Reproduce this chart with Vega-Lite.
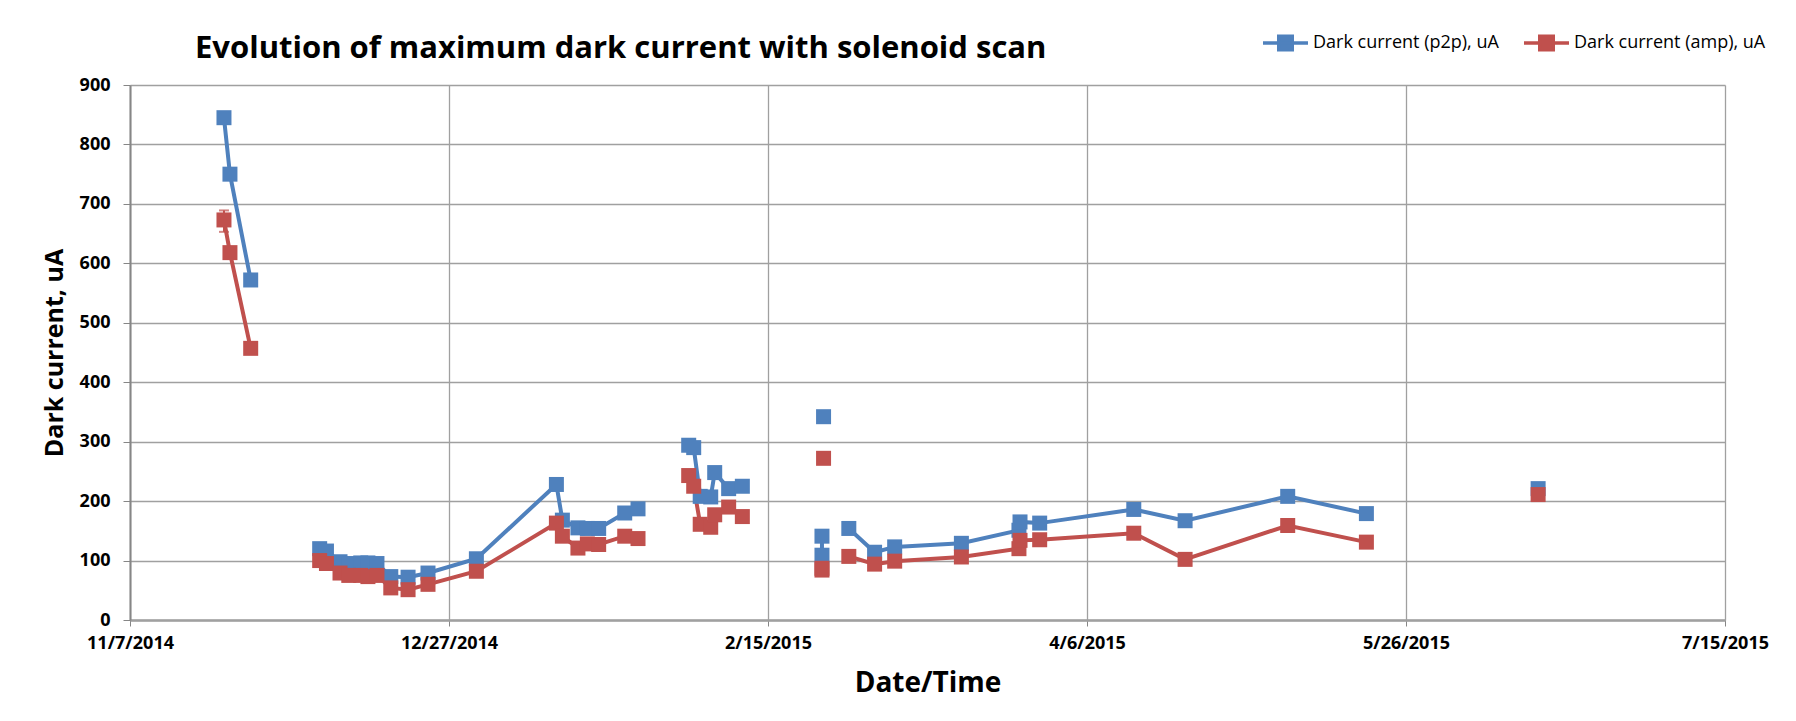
{
  "$schema": "https://vega.github.io/schema/vega-lite/v6.json",
  "width": 1595,
  "height": 535,
  "autosize": "none",
  "padding": {"left": 130, "top": 85, "right": 71, "bottom": 101},
  "background": "white",
  "title": {
    "text": "Evolution of maximum dark current with solenoid scan",
    "anchor": "start",
    "frame": "group",
    "dx": 65,
    "offset": -47,
    "font": "Open Sans",
    "fontSize": 31,
    "fontWeight": "bold",
    "color": "#000000"
  },
  "config": {
    "font": "Open Sans",
    "view": {"stroke": null},
    "axis": {
      "labelFont": "Open Sans",
      "labelFontWeight": "bold",
      "labelFontSize": 18,
      "labelColor": "#000000",
      "titleFont": "Open Sans",
      "titleFontWeight": "bold",
      "titleColor": "#000000",
      "gridColor": "#a0a0a0",
      "gridWidth": 1.3,
      "gridOpacity": 1,
      "tickColor": "#868686",
      "tickSize": 6,
      "domainColor": "#868686",
      "domainWidth": 2
    },
    "legend": {
      "labelFont": "Open Sans",
      "labelFontSize": 18,
      "labelColor": "#000000"
    }
  },
  "datasets": {
    "pts": [
      {"t": "2014-11-21T17:30", "series": "Dark current (p2p), uA", "v": 845, "seg": "A"},
      {"t": "2014-11-22T16:00", "series": "Dark current (p2p), uA", "v": 750, "seg": "A"},
      {"t": "2014-11-25T22:00", "series": "Dark current (p2p), uA", "v": 572, "seg": "A"},
      {"t": "2014-12-06T17:30", "series": "Dark current (p2p), uA", "v": 120, "seg": "B"},
      {"t": "2014-12-07T19:00", "series": "Dark current (p2p), uA", "v": 116, "seg": "B"},
      {"t": "2014-12-09T22:00", "series": "Dark current (p2p), uA", "v": 98, "seg": "B"},
      {"t": "2014-12-11T07:00", "series": "Dark current (p2p), uA", "v": 95, "seg": "B"},
      {"t": "2014-12-13T04:00", "series": "Dark current (p2p), uA", "v": 96, "seg": "B"},
      {"t": "2014-12-14T07:00", "series": "Dark current (p2p), uA", "v": 96, "seg": "B"},
      {"t": "2014-12-15T17:00", "series": "Dark current (p2p), uA", "v": 95, "seg": "B"},
      {"t": "2014-12-17T21:00", "series": "Dark current (p2p), uA", "v": 73, "seg": "B"},
      {"t": "2014-12-20T14:00", "series": "Dark current (p2p), uA", "v": 72, "seg": "B"},
      {"t": "2014-12-23T17:00", "series": "Dark current (p2p), uA", "v": 79, "seg": "B"},
      {"t": "2014-12-31T07:00", "series": "Dark current (p2p), uA", "v": 103, "seg": "B"},
      {"t": "2015-01-12T20:00", "series": "Dark current (p2p), uA", "v": 228, "seg": "B"},
      {"t": "2015-01-13T18:30", "series": "Dark current (p2p), uA", "v": 168, "seg": "B"},
      {"t": "2015-01-16T05:00", "series": "Dark current (p2p), uA", "v": 155, "seg": "B"},
      {"t": "2015-01-17T16:30", "series": "Dark current (p2p), uA", "v": 154, "seg": "B"},
      {"t": "2015-01-19T11:00", "series": "Dark current (p2p), uA", "v": 154, "seg": "B"},
      {"t": "2015-01-23T13:00", "series": "Dark current (p2p), uA", "v": 180, "seg": "B"},
      {"t": "2015-01-25T15:00", "series": "Dark current (p2p), uA", "v": 187, "seg": "B"},
      {"t": "2015-02-02T13:40", "series": "Dark current (p2p), uA", "v": 294, "seg": "C"},
      {"t": "2015-02-03T08:30", "series": "Dark current (p2p), uA", "v": 290, "seg": "C"},
      {"t": "2015-02-04T09:00", "series": "Dark current (p2p), uA", "v": 208, "seg": "C"},
      {"t": "2015-02-06T00:30", "series": "Dark current (p2p), uA", "v": 207, "seg": "C"},
      {"t": "2015-02-06T15:30", "series": "Dark current (p2p), uA", "v": 248, "seg": "C"},
      {"t": "2015-02-08T20:00", "series": "Dark current (p2p), uA", "v": 221, "seg": "C"},
      {"t": "2015-02-10T23:30", "series": "Dark current (p2p), uA", "v": 225, "seg": "C"},
      {"t": "2015-02-23T17:00", "series": "Dark current (p2p), uA", "v": 342, "seg": "D"},
      {"t": "2015-02-23T11:00", "series": "Dark current (p2p), uA", "v": 141, "seg": "E"},
      {"t": "2015-02-23T11:00", "series": "Dark current (p2p), uA", "v": 109, "seg": "E"},
      {"t": "2015-02-27T16:00", "series": "Dark current (p2p), uA", "v": 154, "seg": "F"},
      {"t": "2015-03-03T17:00", "series": "Dark current (p2p), uA", "v": 114, "seg": "F"},
      {"t": "2015-03-06T20:30", "series": "Dark current (p2p), uA", "v": 123, "seg": "F"},
      {"t": "2015-03-17T07:30", "series": "Dark current (p2p), uA", "v": 129, "seg": "F"},
      {"t": "2015-03-26T08:00", "series": "Dark current (p2p), uA", "v": 151, "seg": "F"},
      {"t": "2015-03-26T12:00", "series": "Dark current (p2p), uA", "v": 165, "seg": "F"},
      {"t": "2015-03-29T14:00", "series": "Dark current (p2p), uA", "v": 163, "seg": "F"},
      {"t": "2015-04-13T08:00", "series": "Dark current (p2p), uA", "v": 186, "seg": "F"},
      {"t": "2015-04-21T09:00", "series": "Dark current (p2p), uA", "v": 167, "seg": "F"},
      {"t": "2015-05-07T11:00", "series": "Dark current (p2p), uA", "v": 208, "seg": "F"},
      {"t": "2015-05-19T19:00", "series": "Dark current (p2p), uA", "v": 179, "seg": "F"},
      {"t": "2015-06-15T17:00", "series": "Dark current (p2p), uA", "v": 221, "seg": "G"},

      {"t": "2014-11-21T17:30", "series": "Dark current (amp), uA", "v": 673, "seg": "A"},
      {"t": "2014-11-22T16:00", "series": "Dark current (amp), uA", "v": 618, "seg": "A"},
      {"t": "2014-11-25T22:00", "series": "Dark current (amp), uA", "v": 457, "seg": "A"},
      {"t": "2014-12-06T17:30", "series": "Dark current (amp), uA", "v": 100, "seg": "B"},
      {"t": "2014-12-07T19:00", "series": "Dark current (amp), uA", "v": 95, "seg": "B"},
      {"t": "2014-12-09T22:00", "series": "Dark current (amp), uA", "v": 79, "seg": "B"},
      {"t": "2014-12-11T07:00", "series": "Dark current (amp), uA", "v": 75, "seg": "B"},
      {"t": "2014-12-13T04:00", "series": "Dark current (amp), uA", "v": 75, "seg": "B"},
      {"t": "2014-12-14T07:00", "series": "Dark current (amp), uA", "v": 73, "seg": "B"},
      {"t": "2014-12-15T17:00", "series": "Dark current (amp), uA", "v": 75, "seg": "B"},
      {"t": "2014-12-17T21:00", "series": "Dark current (amp), uA", "v": 54, "seg": "B"},
      {"t": "2014-12-20T14:00", "series": "Dark current (amp), uA", "v": 51, "seg": "B"},
      {"t": "2014-12-23T17:00", "series": "Dark current (amp), uA", "v": 60, "seg": "B"},
      {"t": "2014-12-31T07:00", "series": "Dark current (amp), uA", "v": 82, "seg": "B"},
      {"t": "2015-01-12T20:00", "series": "Dark current (amp), uA", "v": 163, "seg": "B"},
      {"t": "2015-01-13T18:30", "series": "Dark current (amp), uA", "v": 141, "seg": "B"},
      {"t": "2015-01-16T05:00", "series": "Dark current (amp), uA", "v": 121, "seg": "B"},
      {"t": "2015-01-17T16:30", "series": "Dark current (amp), uA", "v": 128, "seg": "B"},
      {"t": "2015-01-19T11:00", "series": "Dark current (amp), uA", "v": 127, "seg": "B"},
      {"t": "2015-01-23T13:00", "series": "Dark current (amp), uA", "v": 141, "seg": "B"},
      {"t": "2015-01-25T15:00", "series": "Dark current (amp), uA", "v": 137, "seg": "B"},
      {"t": "2015-02-02T13:40", "series": "Dark current (amp), uA", "v": 243, "seg": "C"},
      {"t": "2015-02-03T08:30", "series": "Dark current (amp), uA", "v": 225, "seg": "C"},
      {"t": "2015-02-04T09:00", "series": "Dark current (amp), uA", "v": 161, "seg": "C"},
      {"t": "2015-02-06T00:30", "series": "Dark current (amp), uA", "v": 156, "seg": "C"},
      {"t": "2015-02-06T15:30", "series": "Dark current (amp), uA", "v": 177, "seg": "C"},
      {"t": "2015-02-08T20:00", "series": "Dark current (amp), uA", "v": 190, "seg": "C"},
      {"t": "2015-02-10T23:30", "series": "Dark current (amp), uA", "v": 174, "seg": "C"},
      {"t": "2015-02-23T17:00", "series": "Dark current (amp), uA", "v": 272, "seg": "D"},
      {"t": "2015-02-23T11:00", "series": "Dark current (amp), uA", "v": 87, "seg": "E"},
      {"t": "2015-02-23T11:00", "series": "Dark current (amp), uA", "v": 84, "seg": "E"},
      {"t": "2015-02-27T16:00", "series": "Dark current (amp), uA", "v": 107, "seg": "F"},
      {"t": "2015-03-03T17:00", "series": "Dark current (amp), uA", "v": 94, "seg": "F"},
      {"t": "2015-03-06T20:30", "series": "Dark current (amp), uA", "v": 99, "seg": "F"},
      {"t": "2015-03-17T07:30", "series": "Dark current (amp), uA", "v": 106, "seg": "F"},
      {"t": "2015-03-26T08:00", "series": "Dark current (amp), uA", "v": 120, "seg": "F"},
      {"t": "2015-03-26T12:00", "series": "Dark current (amp), uA", "v": 134, "seg": "F"},
      {"t": "2015-03-29T14:00", "series": "Dark current (amp), uA", "v": 135, "seg": "F"},
      {"t": "2015-04-13T08:00", "series": "Dark current (amp), uA", "v": 146, "seg": "F"},
      {"t": "2015-04-21T09:00", "series": "Dark current (amp), uA", "v": 102, "seg": "F"},
      {"t": "2015-05-07T11:00", "series": "Dark current (amp), uA", "v": 159, "seg": "F"},
      {"t": "2015-05-19T19:00", "series": "Dark current (amp), uA", "v": 131, "seg": "F"},
      {"t": "2015-06-15T17:00", "series": "Dark current (amp), uA", "v": 211, "seg": "G"}
    ],
    "err": [
      {"t": "2014-11-21T17:30", "lo": 653, "hi": 689}
    ]
  },
  "layer": [
    {
      "data": {"name": "pts"},
      "mark": {"type": "line", "strokeWidth": 4, "interpolate": "linear"},
      "encoding": {
        "x": {"field": "t", "type": "temporal", "title": "Date/Time"},
        "y": {"field": "v", "type": "quantitative", "title": "Dark current, uA"},
        "color": {
          "field": "series", "type": "nominal",
          "scale": {"domain": ["Dark current (p2p), uA", "Dark current (amp), uA"], "range": ["#4f81bd", "#c0504d"]},
          "legend": {
            "title": null,
            "orient": "none",
            "direction": "horizontal",
            "legendX": 1131,
            "legendY": -67,
            "symbolType": "M-1,0H1M-0.3,-0.3H0.3V0.3H-0.3Z",
            "symbolSize": 2025,
            "symbolStrokeWidth": 3.5,
            "labelLimit": 400,
            "labelOffset": 3,
            "columnPadding": 18,
            "encode": {
              "symbols": {
                "update": {
                  "fill": {"scale": "color", "field": "value"},
                  "stroke": {"scale": "color", "field": "value"},
                  "strokeWidth": {"value": 3.5},
                  "opacity": {"value": 1}
                }
              }
            }
          }
        },
        "detail": {"field": "seg"}
      }
    },
    {
      "data": {"name": "err"},
      "mark": {"type": "errorbar", "ticks": {"size": 10}, "color": "#c0504d", "thickness": 2},
      "encoding": {
        "x": {"field": "t", "type": "temporal", "title": "Date/Time"},
        "y": {"field": "lo", "type": "quantitative", "title": "Dark current, uA"},
        "y2": {"field": "hi"}
      }
    },
    {
      "data": {"name": "pts"},
      "mark": {"type": "point", "shape": "square", "filled": true, "opacity": 1, "size": 225},
      "encoding": {
        "x": {
          "field": "t", "type": "temporal",
          "title": "Date/Time",
          "scale": {"domain": [{"year": 2014, "month": 11, "date": 7}, {"year": 2015, "month": 7, "date": 15}], "nice": false},
          "axis": {
            "values": [
              {"year": 2014, "month": 11, "date": 7},
              {"year": 2014, "month": 12, "date": 27},
              {"year": 2015, "month": 2, "date": 15},
              {"year": 2015, "month": 4, "date": 6},
              {"year": 2015, "month": 5, "date": 26},
              {"year": 2015, "month": 7, "date": 15}
            ],
            "format": "%-m/%-d/%Y",
            "title": "Date/Time",
            "titleFontSize": 28,
            "titlePadding": 17,
            "labelPadding": 8,
            "labelFlush": false,
            "domainColor": "#a0a0a0",
            "domainWidth": 2.5
          }
        },
        "y": {
          "field": "v", "type": "quantitative",
          "title": "Dark current, uA",
          "scale": {"domain": [0, 900], "nice": false},
          "axis": {
            "values": [0, 100, 200, 300, 400, 500, 600, 700, 800, 900],
            "title": "Dark current, uA",
            "titleFontSize": 25,
            "titlePadding": 12,
            "labelPadding": 13,
            "tickSize": 7
          }
        },
        "color": {
          "field": "series", "type": "nominal",
          "scale": {"domain": ["Dark current (p2p), uA", "Dark current (amp), uA"], "range": ["#4f81bd", "#c0504d"]},
          "legend": {
            "title": null,
            "orient": "none",
            "direction": "horizontal",
            "legendX": 1131,
            "legendY": -67,
            "symbolType": "M-1,0H1M-0.3,-0.3H0.3V0.3H-0.3Z",
            "symbolSize": 2025,
            "symbolStrokeWidth": 3.5,
            "labelLimit": 400,
            "labelOffset": 3,
            "columnPadding": 18,
            "encode": {
              "symbols": {
                "update": {
                  "fill": {"scale": "color", "field": "value"},
                  "stroke": {"scale": "color", "field": "value"},
                  "strokeWidth": {"value": 3.5},
                  "opacity": {"value": 1}
                }
              }
            }
          }
        }
      }
    }
  ]
}
